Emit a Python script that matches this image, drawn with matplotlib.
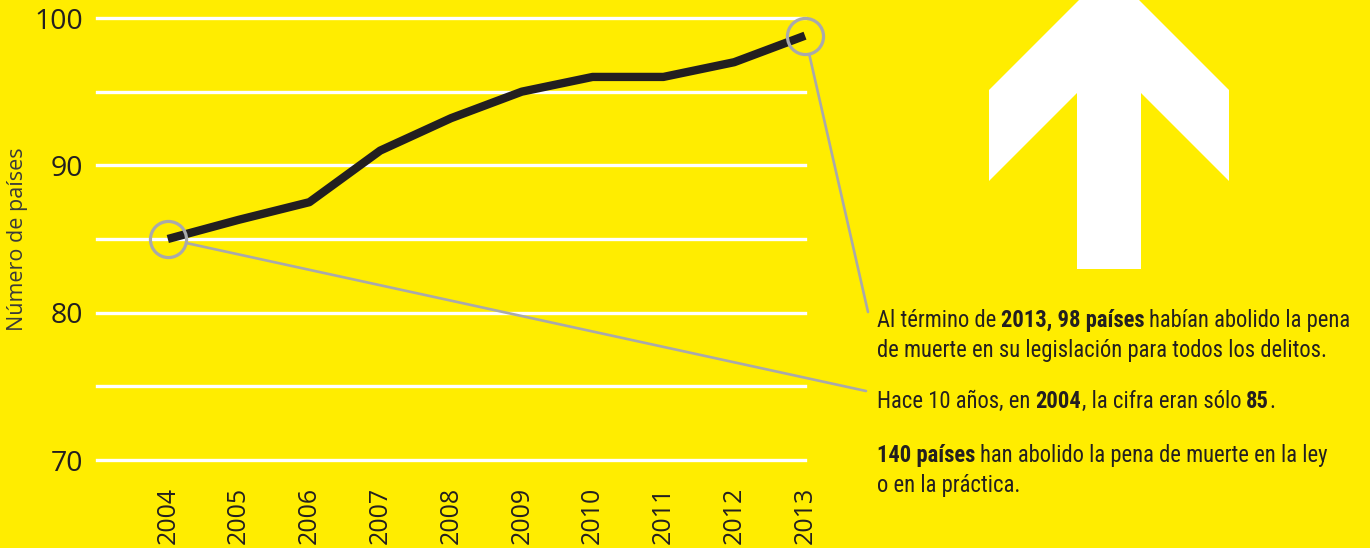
import matplotlib
matplotlib.use("Agg")
import matplotlib.pyplot as plt
from matplotlib import font_manager as fm
from matplotlib.patches import Polygon

# ---------------- data ----------------
years = [2004, 2005, 2006, 2007, 2008, 2009, 2010, 2011, 2012, 2013]
paises = [85, 86.3, 87.5, 91, 93.2, 95, 96, 96, 97, 98.8]
year_labels = [str(y) for y in years]
y_ticks = [70, 80, 90, 100]
y_grid = [70, 75, 80, 85, 90, 95, 100]
y_label = "Número de países"

note_lines = [
    [("Al término de", False), (" 2013, 98 países", True), (" habían abolido la pena", False)],
    [("de muerte en su legislación para todos los delitos.", False)],
    [("Hace 10 años, en", False), (" 2004", True), (", la cifra eran sólo", False), (" 85", True), (".", False)],
    [("140 países", True), (" han abolido la pena de muerte en la ley", False)],
    [("o en la práctica.", False)],
]

# ---------------- style ----------------
W, H = 1370, 548
YELLOW = "#FFED00"
DARK = "#231F20"
GRAY = "#A9A9AC"

avail = {f.name for f in fm.fontManager.ttflist}
narrow_candidates = [("Liberation Sans Narrow", 16.3), ("Roboto Condensed", 16.3),
                     ("Open Sans Condensed", 16.3), ("Arial Narrow", 16.3)]
NARROW, NSIZE = "Liberation Sans", 13.2
for name, size in narrow_candidates:
    if name in avail:
        NARROW, NSIZE = name, size
        break
NUMFONT = "Open Sans" if "Open Sans" in avail else "DejaVu Sans"

fig = plt.figure(figsize=(W / 100, H / 100), dpi=100, facecolor=YELLOW)
ax = fig.add_axes([97 / W, 1 - 460 / H, 708 / W, 442 / H])
ax.set_facecolor(YELLOW)
for s in ax.spines.values():
    s.set_visible(False)

ax.set_xlim(2003, 2013)
ax.set_ylim(70, 100)

for g in y_grid:
    ax.axhline(g, color="white", lw=2.4, clip_on=False, zorder=1)

ax.plot(years, paises, color=DARK, lw=6.0, solid_capstyle="butt",
        solid_joinstyle="round", clip_on=False, zorder=3)

# highlight circles
ax.plot([years[0], years[-1]], [paises[0], paises[-1]], "o", ms=26,
        mfc="none", mec=GRAY, mew=2.3, clip_on=False, zorder=4)

# leaders to notes
def leader(x, y, end_px):
    ax.annotate("", xy=(end_px[0] / W, 1 - end_px[1] / H), xycoords="figure fraction",
                xytext=(x, y), textcoords="data", annotation_clip=False,
                arrowprops=dict(arrowstyle="-", color=GRAY, lw=1.9,
                                shrinkA=14, shrinkB=0))

leader(years[-1], paises[-1], (868, 312))
leader(years[0], paises[0], (866, 391))

# ticks
ax.set_yticks(y_ticks)
ax.set_yticklabels([str(v) for v in y_ticks], fontfamily=NUMFONT, fontsize=20.5, color=DARK)
ax.set_xticks(years)
ax.set_xticklabels(year_labels, rotation=90, fontfamily=NUMFONT, fontsize=18,
                   color=DARK, va="top", ha="center")
ax.tick_params(axis="y", length=0, pad=10)
ax.tick_params(axis="x", length=0, pad=19)

ax.set_ylabel(y_label, fontfamily=NUMFONT, fontsize=15.5, color="#3A3A3A")
ax.yaxis.set_label_coords((28 - 97) / 708, 0.5)

# arrow decoration (figure pixels)
arrow_px = [(1109, -30), (1229, 90), (1229, 181), (1141, 93), (1141, 269),
            (1077, 269), (1077, 93), (989, 181), (989, 90)]
fig.add_artist(Polygon([(x / W, 1 - y / H) for x, y in arrow_px], closed=True,
                       facecolor="white", edgecolor="none", transform=fig.transFigure))

# notes with mixed weights
x0 = 877
baselines = [327, 357, 408, 462, 492]
for segs, by in zip(note_lines, baselines):
    prev = None
    for txt, bold in segs:
        w = "bold" if bold else "normal"
        if prev is None:
            prev = fig.text(x0 / W, 1 - by / H, txt.strip(), fontfamily=NARROW,
                            fontsize=NSIZE, fontweight=w, color=DARK,
                            ha="left", va="baseline")
        else:
            gap = 0.20 * NSIZE if txt.startswith(" ") else 0.04 * NSIZE
            prev = ax.annotate(txt.strip(), xy=(1, 0), xycoords=prev,
                               xytext=(gap, 0), textcoords="offset points",
                               fontfamily=NARROW, fontsize=NSIZE, fontweight=w,
                               color=DARK, ha="left", va="bottom",
                               annotation_clip=False)

fig.savefig("out.png", dpi=100, facecolor=YELLOW)
